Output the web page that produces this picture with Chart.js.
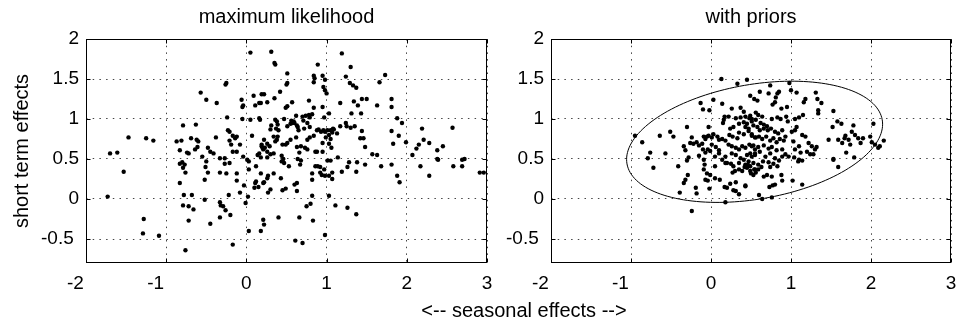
<!DOCTYPE html>
<html>
<head>
<meta charset="utf-8">
<script src="https://cdn.jsdelivr.net/npm/chart.js@4.4.1/dist/chart.umd.min.js"></script>
<style>
  body { margin: 0; background: #fff; }
  #wrap { position: relative; width: 972px; height: 325px; }
  canvas { position: absolute; top: 0; }
  #mlChart { left: 0; }
  #priorChart { left: 490px; }
  #xlabel { position: absolute; left: 324px; width: 400px; top: 298px; text-align: center;
            font: 20px "Liberation Sans", Arial, sans-serif; line-height: 24px; color: #000; }
</style>
</head>
<body>
<div id="wrap">
  <canvas id="mlChart" width="510" height="325"></canvas>
  <canvas id="priorChart" width="482" height="325"></canvas>
  <div id="xlabel">&lt;-- seasonal effects --&gt;</div>
</div>
<script>
const xTickValues = [-2, -1, 0, 1, 2, 3];
const yTickValues = [-0.5, 0, 0.5, 1, 1.5, 2];

// [seasonal, short term] per series, left panel
const mlPoints = [
  [0.05,1.83],[-0.26,1.43],[-0.25,1.45],[-0.57,1.33],[-0.50,1.24],[-0.37,1.20],[-0.06,1.24],[-0.05,1.15],[-0.04,1.17],[0.09,1.29],
  [0.19,1.31],[0.11,1.17],[0.16,1.20],[-0.24,1.02],[-0.05,1.00],[0.05,0.99],[0.16,1.01],[0.17,0.99],[-0.79,0.92],[-0.63,0.93],
  [-1.47,0.77],[-1.25,0.76],[-1.16,0.73],[-1.70,0.57],[-1.61,0.58],[-0.87,0.72],[-0.81,0.73],[-0.69,0.76],[-0.62,0.74],[-0.60,0.72],
  [-0.83,0.61],[-0.74,0.58],[-0.72,0.57],[-0.64,0.62],[-0.61,0.65],[-0.38,0.77],[-0.48,0.64],[-0.45,0.59],[-0.41,0.57],[-0.55,0.53],
  [-0.33,0.51],[-0.27,0.51],[-0.23,0.86],[-0.21,0.84],[-0.17,0.79],[-0.14,0.76],[-0.12,0.78],[-0.21,0.73],[-0.19,0.68],[-0.08,0.68],
  [-0.17,0.59],[-0.12,0.59],[-0.04,0.53],[0.01,0.49],[0.07,0.79],[0.19,0.68],[0.20,0.64],[0.14,0.55],[0.16,0.57],[0.23,0.64],
  [-0.83,0.44],[-0.80,0.46],[-0.77,0.43],[-0.79,0.39],[-0.76,0.33],[-0.50,0.47],[-0.51,0.40],[-0.48,0.33],[-0.52,0.24],[-0.83,0.20],
  [-1.53,0.34],[-1.73,0.03],[-0.78,0.05],[-0.68,0.05],[-0.52,-0.01],[-0.79,-0.08],[-0.72,-0.09],[-0.66,-0.13],[-0.72,-0.27],[-0.45,-0.31],
  [-1.28,-0.25],[-1.29,-0.43],[-1.09,-0.46],[-0.76,-0.64],[-0.27,0.44],[-0.21,0.45],[-0.33,0.33],[-0.25,0.32],[-0.12,0.32],[-0.12,0.23],
  [-0.03,0.17],[-0.08,0.08],[-0.22,0.05],[-0.33,-0.04],[-0.32,-0.08],[-0.29,-0.09],[-0.26,-0.14],[-0.20,-0.20],[-0.33,-0.23],[-0.17,-0.57],
  [-0.01,-0.05],[0.02,0.03],[0.03,0.37],[0.03,0.47],[0.12,0.41],[0.18,0.32],[0.12,0.22],[0.11,0.20],[0.21,0.20],[0.10,0.14],
  [0.15,0.15],[0.26,0.26],[0.27,0.08],[0.03,-0.40],[0.18,-0.40],[0.21,-0.26],[0.22,-0.32],
  [0.31,1.84],[0.35,1.70],[0.36,1.68],[0.51,1.57],[0.51,1.45],[0.50,1.43],[0.22,1.31],[0.18,1.20],[0.26,1.21],[0.35,1.26],
  [0.42,1.34],[0.49,1.14],[0.51,1.16],[0.57,1.21],[0.36,0.99],[0.38,0.97],[0.31,0.92],[0.30,0.87],[0.39,0.93],[0.37,0.88],
  [0.40,0.86],[0.34,0.78],[0.39,0.78],[0.38,0.74],[0.36,0.72],[0.22,0.74],[0.26,0.69],[0.29,0.66],[0.19,0.66],[0.21,0.62],
  [0.26,0.59],[0.30,0.56],[0.34,0.57],[0.26,0.52],[0.18,0.52],[0.44,0.54],[0.46,0.50],[0.53,0.41],[0.56,0.98],[0.57,0.95],
  [0.59,0.97],[0.60,0.95],[0.55,0.94],[0.63,0.92],[0.47,1.00],[0.51,0.91],[0.62,1.04],[0.70,1.03],[0.74,1.04],[0.78,1.05],
  [0.82,1.06],[0.79,1.02],[0.64,0.90],[0.65,0.86],[0.72,0.88],[0.79,0.90],[0.71,0.98],[0.76,0.95],[0.62,0.77],[0.55,0.74],
  [0.49,0.68],[0.45,0.68],[0.51,0.70],[0.78,1.23],[0.84,1.54],[0.85,1.51],[0.95,1.54],[0.98,1.49],[0.84,1.46],[0.89,1.68],
  [0.96,1.40],[0.98,1.36],[1.00,1.32],[0.95,1.15],[0.84,1.14],[1.03,1.07],[0.97,1.02],[0.96,0.86],[0.98,0.84],[1.01,0.86],
  [1.05,0.86],[1.09,0.87],[1.07,0.83],[0.88,0.86],[0.93,0.84],[0.90,0.87],[0.84,0.79],[0.79,0.77],[0.76,0.74],[0.99,0.77],
  [1.03,0.80],[1.05,0.75],[1.13,0.82],[1.08,0.88],[0.68,0.66],[0.73,0.64],[0.76,0.62],[0.86,0.59],[0.88,0.59],[0.95,0.59],
  [1.06,0.64],[1.03,0.69],[0.95,0.70],[0.63,0.65],[0.66,0.58],[0.68,0.48],[0.64,0.50],[0.86,0.41],[0.89,0.41],[0.92,0.40],
  [1.01,0.48],[1.05,0.48],[1.14,0.52],[1.19,1.82],[1.24,1.53],[1.30,1.65],[1.29,1.45],[1.33,1.42],[1.37,1.39],[1.66,1.46],
  [1.73,1.55],[1.17,1.20],[1.34,1.22],[1.39,1.17],[1.44,1.25],[1.50,1.25],[1.43,1.07],[1.63,1.17],[1.31,1.07],[1.81,1.25],
  [1.81,1.15],[1.24,0.95],[1.25,0.91],[1.30,0.89],[1.35,0.91],[1.17,0.91],[1.44,0.85],[1.42,0.76],[1.46,0.76],[1.48,0.65],
  [1.88,1.01],[1.94,0.95],[1.81,0.85],[1.83,0.69],[1.90,0.79],[1.99,0.71],[1.57,0.56],[1.63,0.55],[2.19,0.88],[2.15,0.68],
  [2.12,0.63],[2.21,0.74],[2.28,0.70],[2.07,0.55],[2.45,0.66],[2.38,0.61],[2.57,0.89],[2.38,0.50],[2.39,0.49],[2.69,0.49],
  [2.72,0.50],[2.58,0.41],[2.69,0.41],[2.17,0.41],[1.81,0.43],[1.68,0.41],[1.48,0.43],[1.38,0.46],[1.28,0.46],
  [0.22,0.21],[0.30,0.12],[0.34,0.32],[0.27,0.29],[0.43,0.26],[0.45,0.11],[0.49,0.13],[0.44,0.47],[0.47,0.45],[0.60,0.18],
  [0.63,0.20],[0.63,0.10],[0.67,0.43],[0.82,0.04],[0.75,-0.09],[0.80,-0.06],[0.92,0.33],[0.97,0.37],[0.82,0.32],[0.82,0.24],
  [0.94,0.30],[0.98,0.29],[1.03,0.29],[1.07,0.33],[1.07,0.25],[1.03,0.04],[1.11,-0.08],[1.26,-0.11],[1.37,-0.19],[0.40,-0.23],
  [0.66,-0.23],[0.83,-0.27],[0.61,-0.52],[0.70,-0.55],[0.98,-0.45],[1.19,0.34],[1.26,0.40],[1.37,0.34],[1.88,0.29],[1.91,0.21],
  [2.28,0.29],[2.91,0.33],[2.96,0.33]
];

// right panel
const priorPoints = [
  [0.13,1.50],[0.33,1.44],[-0.13,1.20],[0.03,1.24],[0.14,1.19],[-0.10,1.12],[-0.02,1.11],[0.26,1.13],[0.37,1.14],[0.41,1.09],
  [0.17,1.03],[0.16,0.99],[0.15,0.95],[0.22,1.03],[0.31,1.01],[0.37,1.02],[0.43,1.03],[0.48,1.01],[0.51,1.00],[0.35,0.94],
  [0.41,0.96],[0.43,0.90],[0.24,0.88],[0.28,0.90],[-0.03,0.90],[-0.30,0.90],[-0.51,0.84],[-0.47,0.78],[-0.64,0.79],[-0.95,0.79],
  [-0.86,0.71],[-0.76,0.58],[-0.79,0.51],[-0.57,0.57],[-0.34,0.66],[-0.32,0.61],[-0.28,0.52],[-0.30,0.48],[-0.24,0.77],[-0.26,0.70],
  [-0.22,0.69],[-0.18,0.71],[-0.15,0.67],[-0.11,0.69],[-0.07,0.75],[-0.09,0.78],[-0.05,0.78],[-0.03,0.79],[0.01,0.77],[0.03,0.81],
  [0.08,0.78],[0.10,0.74],[0.14,0.75],[0.18,0.73],[-0.10,0.62],[-0.07,0.58],[-0.04,0.62],[-0.01,0.60],[0.01,0.68],[0.06,0.65],
  [0.10,0.61],[-0.15,0.54],[-0.09,0.49],[-0.08,0.43],[0.05,0.53],[0.10,0.57],[0.14,0.49],[0.18,0.53],[0.22,0.68],[0.26,0.66],
  [0.31,0.64],[0.35,0.62],[0.39,0.66],[0.43,0.64],[0.48,0.68],[0.51,0.66],[0.55,0.62],[0.23,0.80],[0.27,0.78],[0.33,0.76],
  [0.35,0.83],[0.41,0.81],[0.47,0.85],[0.51,0.81],[0.55,0.77],[0.26,0.57],[0.31,0.55],[0.37,0.51],[0.41,0.49],[0.45,0.55],
  [0.51,0.53],[0.55,0.57],[0.35,0.45],[0.43,0.43],[0.49,0.41],[0.28,0.41],[0.05,0.41],[0.18,0.45],
  [-0.72,0.39],[-0.41,0.41],[-0.29,0.30],[-0.32,0.24],[-0.34,0.20],[-0.39,0.08],[-0.19,0.14],[-0.18,0.07],[-0.24,-0.15],[-0.09,0.37],
  [-0.05,0.32],[-0.01,0.30],[-0.07,0.24],[-0.04,0.23],[-0.02,0.13],[0.05,0.26],[0.11,0.24],[0.17,0.15],[0.20,0.14],[0.24,0.19],
  [0.31,0.21],[0.18,-0.04],[0.28,0.11],[0.31,0.10],[0.35,0.06],[0.43,0.16],[0.27,0.33],[0.30,0.35],[0.35,0.37],[0.39,0.35],
  [0.42,0.40],[0.46,0.43],[0.50,0.32],[0.55,0.37],[0.20,0.45],[0.25,0.44],
  [0.45,1.49],[0.74,1.42],[0.98,1.45],[0.49,1.29],[0.54,1.25],[0.58,1.23],[0.61,1.34],[0.72,1.32],[0.83,1.32],[0.85,1.34],
  [0.81,1.27],[0.80,1.21],[0.77,1.18],[1.00,1.36],[1.07,1.33],[1.18,1.25],[1.16,1.21],[1.31,1.33],[1.33,1.25],[1.38,1.20],
  [1.34,1.11],[1.34,1.07],[1.53,1.10],[0.95,1.15],[0.88,1.13],[0.49,1.04],[0.56,1.08],[0.59,1.05],[0.64,1.03],[0.51,0.97],
  [0.56,0.99],[0.62,0.95],[0.66,0.93],[0.70,0.91],[0.76,1.00],[0.83,1.02],[0.87,1.00],[0.94,1.03],[0.96,0.97],[1.05,1.00],
  [1.10,1.02],[1.15,1.05],[1.07,0.90],[1.05,0.86],[1.01,0.84],[0.45,0.94],[0.47,0.88],[0.53,0.92],[0.58,0.90],[0.61,0.86],
  [0.66,0.88],[0.71,0.86],[0.75,0.88],[0.80,0.84],[0.84,0.82],[0.89,0.86],[0.93,0.78],[0.51,0.79],[0.56,0.77],[0.60,0.78],
  [0.64,0.75],[0.69,0.78],[0.74,0.73],[0.78,0.76],[0.82,0.71],[0.86,0.75],[0.91,0.73],[0.53,0.67],[0.59,0.65],[0.66,0.67],
  [0.72,0.63],[0.76,0.65],[0.82,0.61],[0.89,0.62],[0.49,0.57],[0.55,0.55],[0.61,0.59],[0.68,0.53],[0.74,0.57],[0.80,0.51],
  [0.89,0.53],[0.93,0.56],[0.47,0.47],[0.53,0.45],[0.59,0.43],[0.65,0.47],[0.74,0.40],[1.03,0.72],[1.10,0.66],[1.05,0.62],
  [1.12,0.58],[0.97,0.53],[1.04,0.52],[1.14,0.80],[1.18,0.78],[1.22,0.70],[1.26,0.66],[1.30,0.62],[1.32,0.65],[1.28,0.56],
  [1.24,0.56],[1.20,0.59],[1.10,0.49],[1.14,0.48],[1.47,0.74],[1.52,0.90],[1.58,0.97],[1.63,0.94],[1.67,0.76],[1.68,0.79],
  [1.72,0.74],[1.74,0.68],[1.76,0.84],[1.78,0.92],[1.80,0.80],[1.84,0.76],[1.90,0.76],[1.87,0.70],[1.59,0.74],[1.64,0.70],
  [1.69,0.58],[1.79,0.52],[1.53,0.50],[1.99,0.78],[2.03,0.94],[2.01,0.71],[2.05,0.68],[2.09,0.64],[2.11,0.66],[2.16,0.73],
  [1.59,0.40],
  [0.45,0.39],[0.49,0.35],[0.54,0.37],[0.56,0.33],[0.53,0.30],[0.59,0.37],[0.63,0.40],[0.66,0.28],[0.70,0.30],[0.76,0.28],
  [0.73,0.15],[0.77,0.17],[0.80,0.18],[0.88,0.30],[0.89,0.23],[0.60,0.05],[0.64,0.00],[0.76,0.02],[1.02,0.23],[1.14,0.18],
  [1.09,0.47],[0.85,0.48],[0.78,0.44],[0.72,0.46],[0.83,0.41],[1.53,0.49],[0.43,0.17]
];

// prior contour: centre, then x radius, y tilt, y radius
const priorEllipseCenter = [0.545, 0.715];
const priorEllipseShape = [1.6, 0.22, 0.725];

Chart.defaults.font.family = '"Liberation Sans", Arial, sans-serif';
Chart.defaults.color = '#000';

// box, inward ticks and panel title (matlab look)
const framePlugin = {
  id: 'panelFrame',
  afterDraw(chart, args, opts) {
    const { ctx, chartArea: a, scales: { x, y } } = chart;
    const l = Math.round(a.left) + 0.5, r = Math.round(a.right) - 0.5;
    const t = Math.round(a.top) + 0.5, b = Math.round(a.bottom) - 0.5;
    ctx.save();
    ctx.strokeStyle = '#000';
    ctx.lineWidth = 1;
    ctx.strokeRect(l, t, r - l, b - t);
    ctx.beginPath();
    x.ticks.forEach(tk => {
      const px = Math.round(x.getPixelForValue(tk.value)) + 0.5;
      ctx.moveTo(px, b); ctx.lineTo(px, b - 4);
      ctx.moveTo(px, t); ctx.lineTo(px, t + 4);
    });
    y.ticks.forEach(tk => {
      const py = Math.round(y.getPixelForValue(tk.value)) + 0.5;
      ctx.moveTo(l, py); ctx.lineTo(l + 4, py);
      ctx.moveTo(r, py); ctx.lineTo(r - 4, py);
    });
    ctx.stroke();
    ctx.fillStyle = '#000';
    ctx.font = '20px "Liberation Sans", Arial, sans-serif';
    ctx.textAlign = 'center';
    ctx.textBaseline = 'alphabetic';
    ctx.fillText(opts.text, (a.left + a.right) / 2, 23);
    ctx.restore();
  }
};

const ellipsePlugin = {
  id: 'priorEllipse',
  afterDatasetsDraw(chart) {
    const { ctx, scales: { x, y } } = chart;
    const [cx, cy] = priorEllipseCenter;
    const [ax, by, cy2] = priorEllipseShape;
    ctx.save();
    ctx.beginPath();
    for (let i = 0; i <= 160; i++) {
      const th = i / 160 * 2 * Math.PI;
      const px = x.getPixelForValue(cx + ax * Math.cos(th));
      const py = y.getPixelForValue(cy + by * Math.cos(th) + cy2 * Math.sin(th));
      if (i === 0) ctx.moveTo(px, py); else ctx.lineTo(px, py);
    }
    ctx.strokeStyle = '#000';
    ctx.lineWidth = 1;
    ctx.stroke();
    ctx.restore();
  }
};

function makeScales(yWidth, yTitle) {
  return {
    x: {
      type: 'linear', min: -2, max: 3,
      afterBuildTicks: s => { s.ticks = xTickValues.map(v => ({ value: v })); },
      afterFit: s => { s.height = 62; },
      grid: { color: '#444', lineWidth: 1, drawTicks: false },
      border: { display: false, dash: [1.5, 5.2] },
      ticks: {
        font: { size: 19 }, padding: 9, maxRotation: 0, autoSkip: false,
        callback: v => v < 0 ? v + '    ' : String(v)
      }
    },
    y: {
      type: 'linear', min: -0.8, max: 2,
      afterBuildTicks: s => { s.ticks = yTickValues.map(v => ({ value: v })); },
      afterFit: s => { s.width = yWidth; },
      grid: { color: '#444', lineWidth: 1, drawTicks: false },
      border: { display: false, dash: [1.5, 5.2] },
      ticks: {
        font: { size: 19 }, padding: 7, autoSkip: false,
        callback: v => v < 0 ? v + ' ' : String(v)
      },
      title: {
        display: !!yTitle, text: yTitle || '',
        font: { size: 20 }, padding: { top: 10, bottom: 0 }
      }
    }
  };
}

function makeDataset(points) {
  return {
    data: points.map(p => ({ x: p[0], y: p[1] })),
    pointRadius: 2.2,
    pointBackgroundColor: '#000',
    pointBorderWidth: 0,
    pointHoverRadius: 2.2,
    showLine: false
  };
}

// eslint-disable-next-line no-unused-vars
let mlChart = new Chart(document.getElementById('mlChart'), {
  type: 'scatter',
  data: { datasets: [makeDataset(mlPoints)] },
  options: {
    responsive: false,
    animation: false,
    events: [],
    layout: { padding: { left: 0, top: 39, right: 23, bottom: 0 } },
    scales: makeScales(86, 'short term effects'),
    plugins: {
      legend: { display: false },
      tooltip: { enabled: false },
      panelFrame: { text: 'maximum likelihood' }
    }
  },
  plugins: [framePlugin]
});

// eslint-disable-next-line no-unused-vars
let priorChart = new Chart(document.getElementById('priorChart'), {
  type: 'scatter',
  data: { datasets: [makeDataset(priorPoints)] },
  options: {
    responsive: false,
    animation: false,
    events: [],
    layout: { padding: { left: 0, top: 39, right: 21, bottom: 0 } },
    scales: makeScales(61, null),
    plugins: {
      legend: { display: false },
      tooltip: { enabled: false },
      panelFrame: { text: 'with priors' }
    }
  },
  plugins: [framePlugin, ellipsePlugin]
});
</script>
</body>
</html>
